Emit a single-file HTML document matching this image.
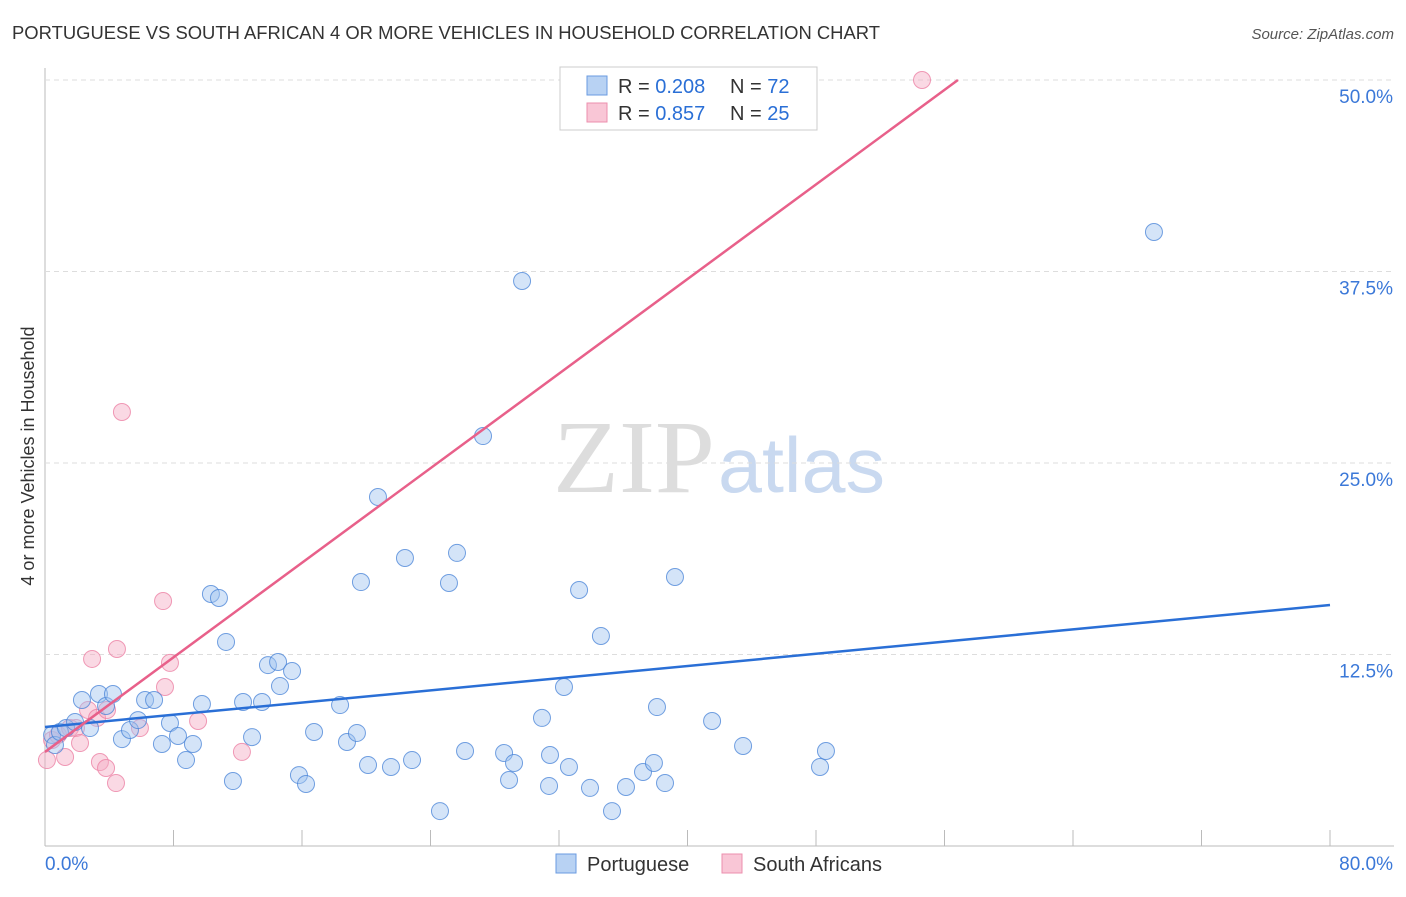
<!DOCTYPE html>
<html><head><meta charset="utf-8"><style>
body{margin:0;background:#fff;font-family:"Liberation Sans",sans-serif}
#c{position:relative;width:1406px;height:892px}
</style></head><body>
<div id="c">
<svg id="s" width="1406" height="892" xmlns="http://www.w3.org/2000/svg">
<text x="12" y="39" font-size="18" fill="#333" textLength="868" lengthAdjust="spacingAndGlyphs">PORTUGUESE VS SOUTH AFRICAN 4 OR MORE VEHICLES IN HOUSEHOLD CORRELATION CHART</text>
<text x="1394" y="39" font-size="15" fill="#555" text-anchor="end" font-style="italic">Source: ZipAtlas.com</text>
<text x="34" y="456" font-size="18" fill="#333" text-anchor="middle" transform="rotate(-90 34 456)">4 or more Vehicles in Household</text>
<text x="553" y="492" font-size="104" fill="#ddd" font-family="Liberation Serif,serif" textLength="162" lengthAdjust="spacingAndGlyphs">ZIP</text>
<text x="718" y="492" font-size="78" fill="#c9d9f0" textLength="167" lengthAdjust="spacingAndGlyphs">atlas</text>
<g id="grid"></g><g id="marks"></g>
<g>
<rect x="560" y="67" width="257" height="63" fill="#fff" stroke="#ccc"/>
<rect x="587" y="76" width="20" height="19" fill="#b8d2f3" stroke="#6a9be0"/>
<rect x="587" y="103" width="20" height="19" fill="#f9c6d6" stroke="#ec8fae"/>
<text x="618" y="93" font-size="20" fill="#333">R = <tspan fill="#2a6fd6">0.208</tspan></text>
<text x="730" y="93" font-size="20" fill="#333">N = <tspan fill="#2a6fd6">72</tspan></text>
<text x="618" y="120" font-size="20" fill="#333">R = <tspan fill="#2a6fd6">0.857</tspan></text>
<text x="730" y="120" font-size="20" fill="#333">N = <tspan fill="#2a6fd6">25</tspan></text>
</g>
<g>
<rect x="556" y="854" width="20" height="19" fill="#b8d2f3" stroke="#6a9be0"/>
<text x="587" y="871" font-size="20" fill="#333">Portuguese</text>
<rect x="722" y="854" width="20" height="19" fill="#f9c6d6" stroke="#ec8fae"/>
<text x="753" y="871" font-size="20" fill="#333">South Africans</text>
</g>
</svg></div>
<script>
const yTicks=[12.5,25,37.5,50];
const yTickLabels=["12.5%","25.0%","37.5%","50.0%"];
const xTickLabels=["0.0%","80.0%"];
const bluePx=[[52,735],[55,745],[60,732],[66,728],[75,722],[82,700],[90,728],[99,694],[106,706],[113,694],[122,739],[130,730],[138,720],[145,700],[154,700],[162,744],[170,723],[178,736],[186,760],[193,744],[202,704],[211,594],[219,598],[226,642],[233,781],[243,702],[252,737],[262,702],[268,665],[278,662],[280,686],[292,671],[299,775],[306,784],[314,732],[340,705],[347,742],[357,733],[361,582],[368,765],[378,497],[391,767],[405,558],[412,760],[440,811],[449,583],[457,553],[465,751],[483,436],[504,753],[509,780],[514,763],[522,281],[542,718],[549,786],[550,755],[564,687],[569,767],[579,590],[590,788],[601,636],[612,811],[626,787],[643,772],[654,763],[657,707],[665,783],[675,577],[712,721],[743,746],[820,767],[826,751],[1154,232]];
const pinkPx=[[47,760],[52,740],[58,735],[65,757],[70,728],[76,728],[80,743],[88,710],[92,659],[97,718],[100,762],[106,768],[107,710],[116,783],[117,649],[122,412],[140,728],[163,601],[165,687],[170,663],[198,721],[242,752],[922,80]];
const blueX=bluePx.map(p=>+((p[0]-45)/1285*80).toFixed(2));
const blueY=bluePx.map(p=>+((846-p[1])/191.5*12.5).toFixed(2));
const pinkX=pinkPx.map(p=>+((p[0]-45)/1285*80).toFixed(2));
const pinkY=pinkPx.map(p=>+((846-p[1])/191.5*12.5).toFixed(2));
const blueTrend=[7.77,15.73];
const pinkTrend=[6.14,0.7717];
const X=v=>45+v/80*1285, Y=v=>846-v/12.5*191.5;
const NS="http://www.w3.org/2000/svg";
function mk(t,a,p){const e=document.createElementNS(NS,t);for(const k in a)e.setAttribute(k,a[k]);p.appendChild(e);return e;}
const g=document.getElementById('grid'),m=document.getElementById('marks');
mk('line',{x1:45,y1:68,x2:45,y2:846,stroke:'#bbb'},g);
mk('line',{x1:45,y1:846,x2:1394,y2:846,stroke:'#bbb'},g);
for(let i=1;i<=10;i++){mk('line',{x1:45+i*128.5,y1:830,x2:45+i*128.5,y2:846,stroke:'#bbb'},g);}
yTicks.forEach((v,i)=>{
 const l=mk('line',{x1:45,y1:Y(v),x2:1394,y2:Y(v),stroke:'#ddd','stroke-dasharray':'5,4'},g);
 
 
 const t=mk('text',{x:1393,y:Y(v)+23,'font-size':19,fill:'#3b78d8','text-anchor':'end'},g);t.textContent=yTickLabels[i];
 
 
});
const xt0=mk('text',{x:45,y:870,'font-size':19,fill:'#3b78d8','text-anchor':'start'},g);xt0.textContent=xTickLabels[0];


const xt1=mk('text',{x:1393,y:870,'font-size':19,fill:'#3b78d8','text-anchor':'end'},g);xt1.textContent=xTickLabels[1];


pinkX.forEach((x,i)=>{const c=mk('circle',{cx:X(x),cy:Y(pinkY[i]),r:8.5,fill:'rgba(245,170,195,0.45)',stroke:'rgba(236,130,165,0.8)'},m);
 
 });
blueX.forEach((x,i)=>{const c=mk('circle',{cx:X(x),cy:Y(blueY[i]),r:8.5,fill:'rgba(160,195,240,0.45)',stroke:'rgba(70,130,215,0.75)'},m);
 
 });
const bl=mk('line',{x1:X(0),y1:Y(blueTrend[0]),x2:X(80),y2:Y(blueTrend[1]),stroke:'#2a6fd6','stroke-width':2.5},m);


const xe=(50-pinkTrend[0])/pinkTrend[1];
const pl=mk('line',{x1:X(0),y1:Y(pinkTrend[0]),x2:X(xe),y2:Y(50),stroke:'#e8608a','stroke-width':2.5},m);


</script>
</body></html>
